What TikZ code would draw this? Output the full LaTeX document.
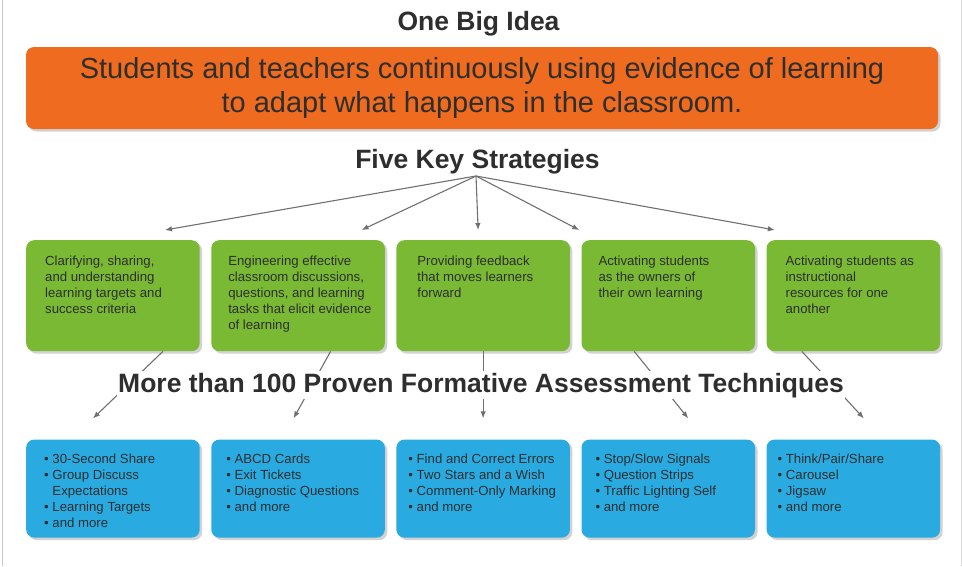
\documentclass[tikz,border=0pt]{standalone}
\usepackage{fontspec}
\setmainfont{Liberation Sans}
\usetikzlibrary{positioning,shadows,arrows.meta}
\definecolor{ideaorange}{HTML}{EE6B1F}
\definecolor{stratgreen}{HTML}{7AB934}
\definecolor{techblue}{HTML}{29ABE2}
\definecolor{inkgray}{HTML}{2E2E2E}
\definecolor{linkgray}{HTML}{707070}
\newcommand\stratcell[2][18pt]{\parbox[c][111pt][t]{173.5pt}{\raggedright\leftskip=#1\relax\vspace*{16pt}#2\par}}
\newcommand\techcell[2][14pt]{\parbox[c][98pt][t]{173.5pt}{\raggedright\leftskip=#1\relax\vspace*{14.5pt}#2}}
\newcommand\tk[1]{\hangindent=8.3pt\hangafter=1\textbullet\ #1\par}
\tikzset{
  box/.style={rounded corners=8pt, inner sep=0pt, minimum width=173.5pt, anchor=north west,
    text=inkgray, font=\fontsize{13.2}{16}\selectfont,
    drop shadow={shadow xshift=2.5pt, shadow yshift=-2.5pt, opacity=.25, fill=black!70}},
  stratbox/.style={box, fill=stratgreen, minimum height=111pt},
  techbox/.style={box, fill=techblue, minimum height=98pt},
  head/.style={font=\fontsize{26.5}{30}\selectfont\bfseries, text=inkgray, anchor=base},
  link/.style={draw=linkgray, line width=1.1pt},
}
\begin{document}
\begin{tikzpicture}[x=1pt, y=-1pt, >={Latex[length=7pt,width=5.5pt]}]
\useasboundingbox (0,0) rectangle (962,566);
\draw[gray!45, line width=1.5pt] (2.5,0) -- (2.5,566);
\draw[gray!30, line width=1pt] (961,0) -- (961,566);
% big idea
\node[head] (bigidea) at (478.5,30) {One Big Idea};
\node[fill=ideaorange, rounded corners=8pt, minimum width=912pt, minimum height=82pt,
  align=center, text=inkgray, font=\fontsize{29}{34}\selectfont,
  drop shadow={shadow xshift=2.5pt, shadow yshift=-2.5pt, opacity=.25, fill=black!70}]
  (idea) at (482,88) {Students and teachers continuously using evidence of learning\\to adapt what happens in the classroom.};
% strategies
\node[head] (strat) at (477.5,168) {Five Key Strategies};
\coordinate (hub) at (476,176);
\node[stratbox] (g1) at (26,240) {\stratcell[19pt]{Clarifying, sharing,\\and understanding\\learning targets and\\success criteria}};
\node[stratbox, right=11.2pt of g1] (g2) {\stratcell[17pt]{Engineering effective\\classroom discussions,\\questions, and learning\\tasks that elicit evidence\\of learning}};
\node[stratbox, right=11.2pt of g2] (g3) {\stratcell[21pt]{Providing feedback\\that moves learners\\forward}};
\node[stratbox, right=11.2pt of g3] (g4) {\stratcell[17pt]{Activating students\\as the owners of\\their own learning}};
\node[stratbox, right=11.2pt of g4] (g5) {\stratcell[19pt]{Activating students as\\instructional\\resources for one\\another}};
% techniques
\node[techbox, below=88pt of g1] (b1) {\techcell[18pt]{\tk{30-Second Share}\tk{Group Discuss\newline Expectations}\tk{Learning Targets}\tk{and more}}};
\node[techbox, below=88pt of g2] (b2) {\techcell[15pt]{\tk{ABCD Cards}\tk{Exit Tickets}\tk{Diagnostic Questions}\tk{and more}}};
\node[techbox, below=88pt of g3] (b3) {\techcell[12pt]{\tk{Find and Correct Errors}\tk{Two Stars and a Wish}\tk{Comment-Only Marking}\tk{and more}}};
\node[techbox, below=88pt of g4] (b4) {\techcell[14pt]{\tk{Stop/Slow Signals}\tk{Question Strips}\tk{Traffic Lighting Self}\tk{and more}}};
\node[techbox, below=88pt of g5] (b5) {\techcell[11pt]{\tk{Think/Pair/Share}\tk{Carousel}\tk{Jigsaw}\tk{and more}}};
% connectors
\foreach \i/\dx in {1/52, 2/63.5, 3/-5, 4/-89, 5/-78.5}
  \draw[link,->] (hub) -- ([xshift=\dx pt, yshift=10pt]g\i.north);
\foreach \i/\sx/\ex in {1/50/-20, 2/32.5/-4.5, 3/0/0, 4/-34/20, 5/-51.5/10.5}
  \draw[link,->] ([xshift=\sx pt]g\i.south) -- ([xshift=\ex pt, yshift=21pt]b\i.north);
\node[head, fill=white, inner xsep=1pt, inner ysep=1.5pt] (tech) at (481,392) {More than 100 Proven Formative Assessment Techniques};
\end{tikzpicture}
\end{document}
